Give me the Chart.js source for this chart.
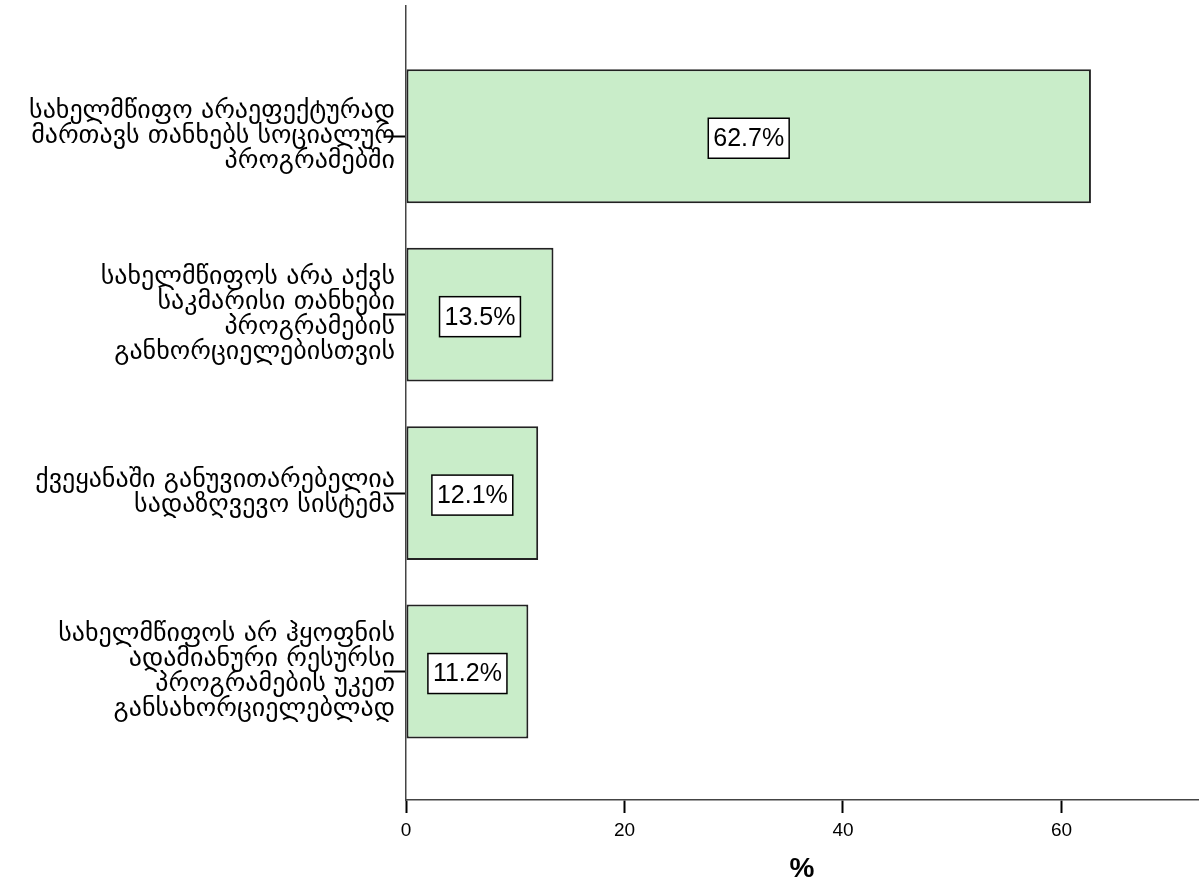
<!DOCTYPE html>
<html>
<head>
<meta charset="utf-8">
<script src="https://cdn.jsdelivr.net/npm/chart.js@4/dist/chart.umd.min.js"></script>
<style>
  html, body { margin: 0; padding: 0; background: #ffffff; }
  #wrap { width: 1201px; height: 882px; position: relative; }
</style>
</head>
<body>
<div id="wrap"><canvas id="c" width="1201" height="882"></canvas></div>
<script>
const categories = [
  ["სახელმწიფო არაეფექტურად", "მართავს თანხებს სოციალურ", "პროგრამებში"],
  ["სახელმწიფოს არა აქვს", "საკმარისი თანხები", "პროგრამების", "განხორციელებისთვის"],
  ["ქვეყანაში განუვითარებელია", "სადაზღვევო სისტემა"],
  ["სახელმწიფოს არ ჰყოფნის", "ადამიანური რესურსი", "პროგრამების უკეთ", "განსახორციელებლად"]
];
const percentValues = [62.7, 13.5, 12.1, 11.2];
const xTickValues = [0, 20, 40, 60];
const xAxisTitle = "%";

const boxLabels = {
  id: 'boxLabels',
  afterDatasetsDraw(chart) {
    const ctx = chart.ctx;
    const meta = chart.getDatasetMeta(0);
    ctx.save();
    ctx.font = '25px "Liberation Sans", Arial, sans-serif';
    ctx.textAlign = 'center';
    ctx.textBaseline = 'middle';
    meta.data.forEach((el, i) => {
      const txt = percentValues[i].toFixed(1) + '%';
      const cx = (el.x + el.base) / 2;
      const cy = el.y + 2;
      const w = ctx.measureText(txt).width + 10;
      const h = 40;
      ctx.fillStyle = '#ffffff';
      ctx.fillRect(cx - w / 2, cy - h / 2, w, h);
      ctx.lineWidth = 1.5;
      ctx.strokeStyle = '#000000';
      ctx.strokeRect(cx - w / 2, cy - h / 2, w, h);
      ctx.fillStyle = '#000000';
      ctx.fillText(txt, cx, cy + 1);
    });
    ctx.restore();
  }
};

new Chart(document.getElementById('c'), {
  type: 'bar',
  data: {
    datasets: [{
      data: percentValues.map((v, i) => ({ x: v, y: i })),
      backgroundColor: '#c9edc9',
      borderColor: '#222222',
      borderWidth: 2,
      borderSkipped: false,
      barPercentage: 0.75,
      categoryPercentage: 1.0
    }]
  },
  options: {
    indexAxis: 'y',
    responsive: false,
    animation: false,
    layout: { padding: { top: 6, right: 3, left: 0, bottom: 0 } },
    plugins: { legend: { display: false }, tooltip: { enabled: false } },
    scales: {
      x: {
        type: 'linear',
        min: 0,
        max: 72.5,
        afterFit(scale) { scale.height = 82; scale.paddingLeft = 0; scale.paddingRight = 0; },
        afterBuildTicks(scale) { scale.ticks = xTickValues.map(v => ({ value: v })); },
        ticks: {
          includeBounds: false,
          stepSize: 20,
          color: '#000000',
          padding: 6,
          maxRotation: 0,
          font: { family: "'Liberation Sans', Arial, sans-serif", size: 19 }
        },
        grid: { drawOnChartArea: false, tickLength: 13, tickWidth: 2, tickColor: '#000000' },
        border: { color: '#444444', width: 1.5 },
        title: {
          display: true,
          text: xAxisTitle,
          color: '#000000',
          padding: { top: 4, bottom: 0 },
          font: { family: "'Liberation Sans', Arial, sans-serif", size: 28, weight: 'bold', lineHeight: 0.9 }
        }
      },
      y: {
        type: 'linear',
        reverse: true,
        offset: false,
        min: -0.73,
        max: 3.72,
        afterFit(scale) { scale.width = 406; scale.paddingTop = 0; scale.paddingBottom = 0; },
        afterBuildTicks(scale) { scale.ticks = categories.map((c, i) => ({ value: i })); },
        ticks: {
          includeBounds: false,
          stepSize: 1,
          color: '#000000',
          padding: -11,
          callback: (v) => categories[v],
          font: { family: "'DejaVu Sans', sans-serif", size: 26, lineHeight: '25px' }
        },
        grid: { offset: false, drawOnChartArea: false, tickLength: 22, tickWidth: 2, tickColor: '#000000' },
        border: { color: '#444444', width: 1.5 }
      }
    }
  },
  plugins: [boxLabels]
});
</script>
</body>
</html>
